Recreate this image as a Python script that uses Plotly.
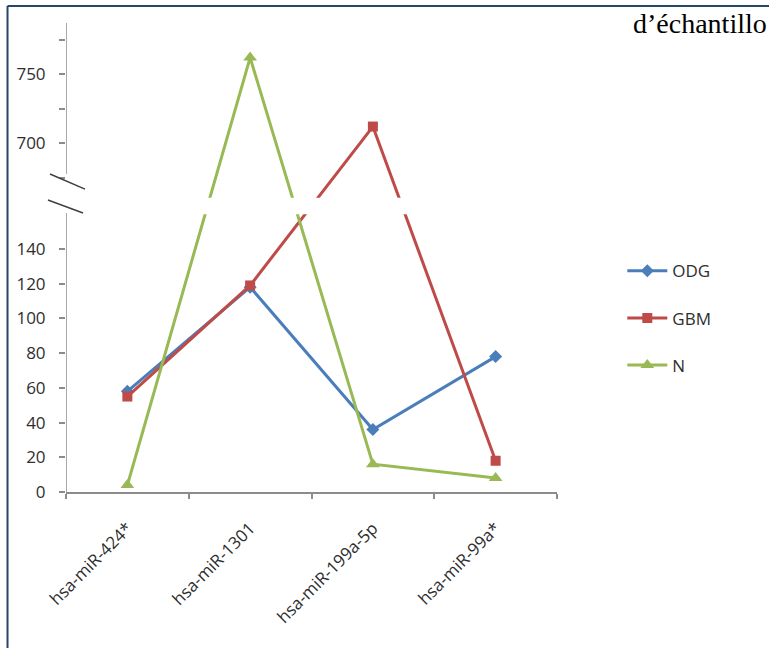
"""Line chart of miRNA expression per sample group, with a broken y axis."""
import plotly.graph_objects as go

# Data
categories = ['hsa-miR-424*', 'hsa-miR-1301', 'hsa-miR-199a-5p', 'hsa-miR-99a*']
odg_values = [58, 118, 36, 78]
gbm_values = [55, 119, 712, 18]
n_values = [4, 762, 16, 8]

series_names = ['ODG', 'GBM', 'N']
series_colors = ['#4a7ebb', '#be4b48', '#98b954']
series_symbols = ['diamond', 'square', 'triangle-up']

lower_ticks = [0, 20, 40, 60, 80, 100, 120, 140]
upper_ticks = [675, 700, 725, 750, 775]
upper_labels = ['', '700', '', '750', '']

# broken axis: values above the break are drawn on a compressed scale
BREAK_FROM = 700
BREAK_TO = 201.0
UPPER_SCALE = 0.795


def to_display(v):
    """Map a data value onto the broken y axis."""
    if v < 400:
        return v
    return BREAK_TO + (v - BREAK_FROM) * UPPER_SCALE


def build_figure() -> go.Figure:
    fig = go.Figure()

    for name, vals, color, symbol in zip(
        series_names, [odg_values, gbm_values, n_values], series_colors, series_symbols
    ):
        msize = 12 if symbol == 'triangle-up' else 10
        fig.add_trace(go.Scatter(
            x=categories,
            y=[to_display(v) for v in vals],
            customdata=vals,
            mode='lines+markers',
            name=name,
            legendgroup=name,
            line=dict(color=color, width=3),
            marker=dict(color=color, symbol=symbol, size=msize),
            hovertemplate='%{x}: %{customdata}<extra>' + name + '</extra>',
        ))

    tickvals = [to_display(v) for v in lower_ticks] + [to_display(v) for v in upper_ticks]
    ticktext = [str(v) for v in lower_ticks] + upper_labels
    y_top = 270.2

    axis_gray = '#8c8c8c'
    text_gray = '#2e2e2e'

    fig.update_layout(
        width=769,
        height=648,
        autosize=False,
        margin=dict(l=66, r=212, t=23, b=156),
        paper_bgcolor='white',
        plot_bgcolor='white',
        font=dict(family='Open Sans', size=17, color=text_gray),
        xaxis=dict(
            type='category',
            range=[-0.5, 3.5],
            showgrid=False,
            zeroline=False,
            showline=True,
            linecolor=axis_gray,
            linewidth=1.5,
            ticks='outside',
            tickson='boundaries',
            ticklen=5,
            tickcolor=axis_gray,
            tickwidth=1.5,
            tickangle=-45,
            ticklabelstandoff=18,
            tickfont=dict(size=17, color=text_gray),
        ),
        yaxis=dict(
            range=[0, y_top],
            showgrid=False,
            zeroline=False,
            showline=False,
            tickmode='array',
            tickvals=tickvals,
            ticktext=ticktext,
            ticks='outside',
            ticklen=6,
            tickcolor=axis_gray,
            tickwidth=1.5,
            ticklabelstandoff=10,
            tickfont=dict(size=17, color=text_gray),
        ),
        legend=dict(
            x=1.133,
            y=0.509,
            xanchor='left',
            yanchor='top',
            traceorder='grouped',
            tracegroupgap=22,
            itemwidth=40,
            bgcolor='rgba(0,0,0,0)',
            font=dict(size=17, color=text_gray),
        ),
        showlegend=True,
    )

    # white band hiding the lines at the break
    fig.add_shape(type='rect', xref='x', yref='y', x0=-0.5, x1=3.5, y0=160, y1=169.5,
                  fillcolor='white', line=dict(width=0), layer='above')
    # y axis line, interrupted at the break
    for y0, y1 in [(0, 160.7), (183.2, y_top)]:
        fig.add_shape(type='line', xref='x', yref='y', x0=-0.5, x1=-0.5, y0=y0, y1=y1,
                      line=dict(color=axis_gray, width=1.5), layer='above')
    # break marks "//"
    for (xa, ya), (xb, yb) in [((-0.0326, 183.2), (0.0387, 174.5)),
                               ((-0.0367, 168.2), (0.0346, 160.7))]:
        fig.add_shape(type='line', xref='paper', yref='y', x0=xa, x1=xb, y0=ya, y1=yb,
                      line=dict(color='#404040', width=1.5), layer='above')

    # frame of the surrounding document
    frame = dict(color='#27466b', width=2)
    fig.add_shape(type='line', xref='paper', yref='paper', x0=-0.1191, x1=1.45,
                  y0=1.0362, y1=1.0362, line=frame)
    fig.add_shape(type='line', xref='paper', yref='paper', x0=-0.1191, x1=-0.1191,
                  y0=1.0362, y1=-0.34, line=frame)

    fig.add_annotation(
        text='d’échantillo',
        xref='paper', yref='paper',
        x=1.1507, y=1.0,
        xanchor='left', yanchor='middle',
        showarrow=False,
        font=dict(family='Liberation Serif', size=28, color='black'),
    )

    return fig


fig = build_figure()
# the page is photographed from its top-left corner, so drop the default body margin
fig.write_html(
    "out.html",
    config=dict(displayModeBar=False),
    post_script="document.body.style.margin = '0px';",
)
